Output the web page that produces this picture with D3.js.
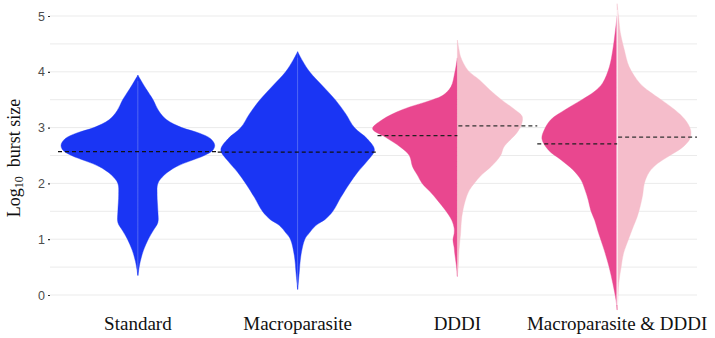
<!DOCTYPE html>
<html>
<head>
<meta charset="utf-8">
<script src="https://cdn.jsdelivr.net/npm/d3@7"></script>
<style>
  html, body { margin: 0; padding: 0; background: #fff; }
  svg { display: block; }
</style>
</head>
<body>
<svg id="chart" width="715" height="338"></svg>
<script>
"use strict";

// categories on the x axis
const categories = ["Standard", "Macroparasite", "DDDI", "Macroparasite & DDDI"];
const yTicks = [0, 1, 2, 3, 4, 5];

// violin outlines: [log10 burst size, relative density]
const standardDensity = [[3.94,0],[3.7,0.1],[3.5,0.19],[3.3,0.26],[3.14,0.36],[3.0,0.55],[2.9,0.77],[2.8,0.91],[2.69,0.96],[2.6,0.94],[2.5,0.83],[2.4,0.65],[2.3,0.48],[2.15,0.33],[2.0,0.25],[1.8,0.24],[1.5,0.25],[1.3,0.25],[1.15,0.19],[1.0,0.13],[0.8,0.07],[0.6,0.03],[0.35,0]];
const macroDensity = [[4.36,0],[4.2,0.06],[4.0,0.15],[3.75,0.31],[3.5,0.47],[3.25,0.6],[3.0,0.71],[2.8,0.87],[2.6,0.96],[2.4,0.87],[2.2,0.75],[2.0,0.65],[1.75,0.54],[1.5,0.44],[1.35,0.34],[1.25,0.23],[1.1,0.14],[1.0,0.09],[0.7,0.04],[0.4,0.02],[0.1,0]];
const dddiLeftDensity = [[4.25,0],[4.0,0.03],[3.73,0.08],[3.58,0.18],[3.5,0.31],[3.32,0.69],[3.14,0.94],[2.98,1.06],[2.83,0.9],[2.65,0.71],[2.5,0.6],[2.3,0.56],[2.15,0.5],[2.0,0.44],[1.85,0.34],[1.7,0.25],[1.52,0.15],[1.34,0.07],[1.2,0.04],[1.1,0.04],[0.99,0.055],[0.85,0.04],[0.75,0.033],[0.5,0.01],[0.33,0]];
const dddiRightDensity = [[4.57,0],[4.4,0.02],[4.27,0.04],[4.03,0.13],[3.85,0.28],[3.67,0.41],[3.5,0.55],[3.32,0.72],[3.2,0.81],[3.05,0.8],[2.9,0.74],[2.78,0.66],[2.65,0.58],[2.5,0.54],[2.3,0.42],[2.15,0.3],[2.0,0.21],[1.88,0.15],[1.7,0.1],[1.4,0.055],[1.1,0.04],[0.8,0.02],[0.5,0.01],[0.35,0]];
const bothLeftDensity = [[5.0,0],[4.7,0.025],[4.39,0.054],[4.09,0.096],[3.8,0.18],[3.65,0.28],[3.5,0.44],[3.32,0.65],[3.14,0.83],[2.96,0.91],[2.8,0.94],[2.6,0.86],[2.42,0.7],[2.24,0.55],[2.06,0.45],[1.88,0.4],[1.7,0.36],[1.52,0.33],[1.34,0.28],[1.1,0.23],[0.8,0.16],[0.5,0.1],[0.21,0.054],[-0.1,0.013],[-0.27,0]];
const bothRightDensity = [[5.22,0],[4.95,0.02],[4.7,0.04],[4.39,0.09],[4.09,0.15],[3.8,0.28],[3.65,0.4],[3.5,0.55],[3.32,0.72],[3.14,0.85],[2.95,0.92],[2.8,0.91],[2.65,0.82],[2.5,0.66],[2.35,0.5],[2.2,0.4],[2.0,0.34],[1.8,0.32],[1.6,0.29],[1.4,0.25],[1.22,0.2],[0.99,0.14],[0.75,0.08],[0.5,0.05],[0.21,0.02],[-0.1,0.009],[-0.25,0]];

// medians: [left half, right half]
const medianLeft = [2.57, 2.56, 2.855, 2.71];
const medianRight = [2.57, 2.56, 3.03, 2.83];

const blue = "#1a35f4";
const darkPink = "#e9478f";
const lightPink = "#f5bdcb";

const svg = d3.select("#chart");

const y = d3.scaleLinear().domain([0, 5]).range([295, 16]);
const x = d3.scaleBand().domain(categories).range([58, 697]).padding(0);
const half = x.bandwidth() / 2;
const w = d3.scaleLinear().domain([0, 1]).range([0, 80]);
const cx = (c) => x(c) + half;

// grid
const grid = svg.append("g");
grid.selectAll("line")
  .data(d3.range(0, 5.01, 0.5))
  .enter().append("line")
  .attr("x1", 50).attr("x2", 697)
  .attr("y1", (d) => y(d)).attr("y2", (d) => y(d))
  .attr("stroke", "#ebebeb")
  .attr("stroke-width", 1);

// y axis
const yAxis = svg.append("g")
  .attr("transform", "translate(50,0)")
  .call(d3.axisLeft(y).tickValues(yTicks).tickSize(2).tickPadding(3).tickFormat(d3.format("d")));
yAxis.select(".domain").remove();
yAxis.selectAll("text")
  .attr("fill", "#4d4d4d")
  .style("font-family", "'Liberation Sans', Arial, sans-serif")
  .style("font-size", "12.5px");
yAxis.selectAll("line").attr("stroke", "#333").attr("stroke-width", 1.2);

const title = svg.append("text")
  .attr("transform", "translate(20,158) rotate(-90)")
  .attr("text-anchor", "middle")
  .style("font-family", "'Liberation Serif', 'Times New Roman', serif")
  .style("font-size", "18px")
  .attr("fill", "#111");
title.append("tspan").text("Log");
title.append("tspan").attr("baseline-shift", "-25%").style("font-size", "12px").text("10");
title.append("tspan").text("\u00a0 burst size");

// category labels
const xAxis = svg.append("g")
  .attr("transform", "translate(0,312)")
  .call(d3.axisBottom(x).tickSize(0).tickPadding(0));
xAxis.select(".domain").remove();
xAxis.selectAll("text")
  .attr("dy", "0.95em")
  .attr("fill", "#111")
  .style("font-family", "'Liberation Serif', 'Times New Roman', serif")
  .style("font-size", "19px");

// violin halves
const halves = [
  { cat: categories[0], side: -1, dens: standardDensity, fill: blue },
  { cat: categories[0], side: 1, dens: standardDensity, fill: blue },
  { cat: categories[1], side: -1, dens: macroDensity, fill: blue },
  { cat: categories[1], side: 1, dens: macroDensity, fill: blue },
  { cat: categories[2], side: -1, dens: dddiLeftDensity, fill: darkPink },
  { cat: categories[2], side: 1, dens: dddiRightDensity, fill: lightPink },
  { cat: categories[3], side: -1, dens: bothLeftDensity, fill: darkPink },
  { cat: categories[3], side: 1, dens: bothRightDensity, fill: lightPink }
];

const area = (h) => d3.area()
  .curve(d3.curveCatmullRom.alpha(0.5))
  .y((d) => y(d[0]))
  .x0(cx(h.cat))
  .x1((d) => cx(h.cat) + h.side * w(d[1]))(h.dens);

svg.append("g").selectAll("path")
  .data(halves)
  .enter().append("path")
  .attr("d", area)
  .attr("fill", (d) => d.fill)
  .attr("stroke", (d) => d.fill)
  .attr("stroke-width", 0.4);

// thin centre lines
const centres = [
  { cat: categories[0], top: standardDensity[0][0], bot: standardDensity[standardDensity.length - 1][0], color: "#5a6ff6", width: 1 },
  { cat: categories[1], top: macroDensity[0][0], bot: macroDensity[macroDensity.length - 1][0], color: "#5a6ff6", width: 1 },
  { cat: categories[3], top: bothRightDensity[0][0], bot: bothRightDensity[bothRightDensity.length - 1][0], color: "#ffffff", width: 1.3 }
];
svg.append("g").selectAll("line")
  .data(centres)
  .enter().append("line")
  .attr("x1", (d) => cx(d.cat)).attr("x2", (d) => cx(d.cat))
  .attr("y1", (d) => y(d.top) + 6).attr("y2", (d) => y(d.bot) - 4)
  .attr("stroke", (d) => d.color)
  .attr("stroke-width", (d) => d.width)
  .attr("opacity", 0.8);

// median dashes
const medians = [];
categories.forEach((c, i) => {
  if (medianLeft[i] === medianRight[i]) {
    medians.push({ x1: cx(c) - half, x2: cx(c) + half, v: medianLeft[i], color: "#111" });
  } else {
    medians.push({ x1: cx(c) - half, x2: cx(c), v: medianLeft[i], color: "#222" });
    medians.push({ x1: cx(c) + 1, x2: cx(c) + half, v: medianRight[i], color: "#333" });
  }
});
svg.append("g").selectAll("line")
  .data(medians)
  .enter().append("line")
  .attr("x1", (d) => d.x1).attr("x2", (d) => d.x2)
  .attr("y1", (d) => y(d.v)).attr("y2", (d) => y(d.v))
  .attr("stroke", (d) => d.color)
  .attr("stroke-width", 1.2)
  .attr("stroke-dasharray", "4,3");
</script>
</body>
</html>
